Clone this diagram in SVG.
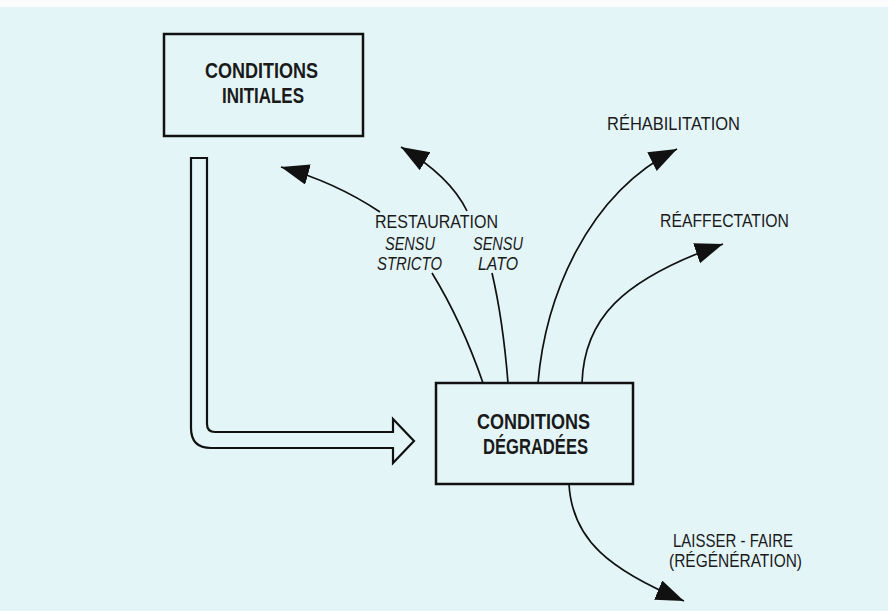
<svg xmlns="http://www.w3.org/2000/svg" width="888" height="611" viewBox="0 0 888 611">
  <style>
    .bg { fill: #e4f5f8; }
    .box { fill: none; stroke: #111; stroke-width: 2.5; }
    .btxt { font-family: "Liberation Sans", Arial, sans-serif; font-weight: bold; font-size: 22px; fill: #1a1a1a; }
    .lbl { font-family: "Liberation Sans", Arial, sans-serif; font-size: 19px; fill: #1a1a1a; }
    .it { font-style: italic; }
    .con { fill: none; stroke: #111; stroke-width: 1.7; }
    .hollow { fill: none; stroke: #111; stroke-width: 2.2; stroke-linejoin: miter; }
  </style>
  <defs>
    <marker id="head" markerUnits="userSpaceOnUse" markerWidth="32" markerHeight="24" refX="28" refY="10.5" orient="auto">
      <path d="M0,0 L28,10.5 L0,21 Z" fill="#111"/>
    </marker>
  </defs>
  <rect class="bg" x="0" y="0" width="888" height="611"/>
  <rect x="0" y="0" width="888" height="7" fill="#fbfdfd"/>

  <g id="conditions-initiales">
    <rect class="box" x="164" y="34" width="199" height="102"/>
    <text class="btxt" x="205" y="78" textLength="113" lengthAdjust="spacingAndGlyphs">CONDITIONS</text>
    <text class="btxt" x="222" y="103" textLength="82" lengthAdjust="spacingAndGlyphs">INITIALES</text>
  </g>

  <g id="conditions-degradees">
    <rect class="box" x="436" y="383" width="197" height="101"/>
    <text class="btxt" x="477" y="429" textLength="113" lengthAdjust="spacingAndGlyphs">CONDITIONS</text>
    <text class="btxt" x="483" y="454" textLength="105" lengthAdjust="spacingAndGlyphs">DÉGRADÉES</text>
  </g>

  <g id="labels">
    <text class="lbl" x="375" y="228" textLength="123" lengthAdjust="spacingAndGlyphs">RESTAURATION</text>
    <text class="lbl it" x="385" y="250" textLength="50" lengthAdjust="spacingAndGlyphs">SENSU</text>
    <text class="lbl it" x="377" y="270" textLength="65" lengthAdjust="spacingAndGlyphs">STRICTO</text>
    <text class="lbl it" x="473" y="250" textLength="50" lengthAdjust="spacingAndGlyphs">SENSU</text>
    <text class="lbl it" x="478" y="270" textLength="40" lengthAdjust="spacingAndGlyphs">LATO</text>
    <text class="lbl" x="607" y="130" textLength="133" lengthAdjust="spacingAndGlyphs">RÉHABILITATION</text>
    <text class="lbl" x="660" y="227" textLength="129" lengthAdjust="spacingAndGlyphs">RÉAFFECTATION</text>
    <text class="lbl" x="673" y="547" textLength="120" lengthAdjust="spacingAndGlyphs">LAISSER - FAIRE</text>
    <text class="lbl" x="669" y="567" textLength="133" lengthAdjust="spacingAndGlyphs">(RÉGÉNÉRATION)</text>
  </g>

  <g id="connectors">
    <path class="hollow" d="M191,158 L207,158 L207,424 Q207,432 215,432 L393,432 L393,419 L414,441 L393,463 L393,448 L211,448 Q191,448 191,428 Z"/>
    <path class="con" d="M483,383 Q462,322 432,273"/>
    <path class="con" d="M380,212 Q335,182 281,167" marker-end="url(#head)"/>
    <path class="con" d="M508,383 Q503,320 492,273"/>
    <path class="con" d="M467,211 Q450,176 401,147" marker-end="url(#head)"/>
    <path class="con" d="M538,383 C545,300 585,195 677,149" marker-end="url(#head)"/>
    <path class="con" d="M582,383 C584,320 620,280 723,244" marker-end="url(#head)"/>
    <path class="con" d="M569,484 C572,540 610,570 684,601" marker-end="url(#head)"/>
  </g>
</svg>
